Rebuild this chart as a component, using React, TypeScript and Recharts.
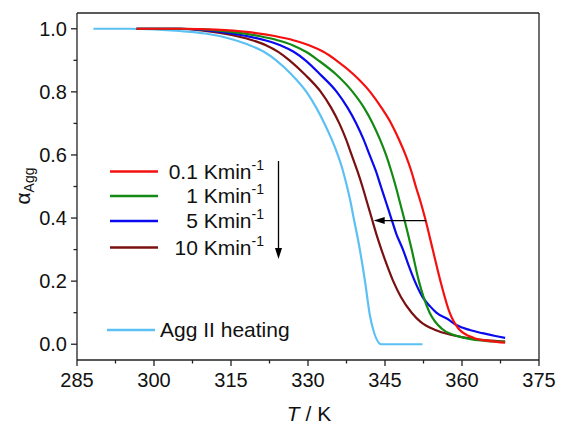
import { LineChart, Line, XAxis, YAxis, ReferenceLine } from "recharts";

// temperatures (K) and aggregate fraction
const tempAggII = [288.2, 295, 300, 305, 310, 314.5, 318.3, 321.4, 323.8, 326.8, 329.7, 331.6, 333.2, 334.6, 335.8, 336.8, 337.6, 338.3, 338.9, 340.1, 341.1, 342.1, 344.3, 352.3];
const alphaAggII = [1.0, 1.0, 0.998, 0.993, 0.985, 0.97, 0.95, 0.927, 0.9, 0.855, 0.8, 0.75, 0.7, 0.65, 0.6, 0.55, 0.5, 0.45, 0.4, 0.3, 0.2, 0.088, 0, 0];

const temp01 = [296.6, 305, 312, 318, 323.5, 327.3, 330.2, 333.0, 335.5, 338.9, 342.1, 344.3, 346.2, 347.7, 349.0, 350.1, 351.0, 351.95, 352.8, 354.3, 355.8, 357.6, 359.3, 362.3, 365.5, 368.4];
const alpha01 = [1.0, 1.0, 0.997, 0.99, 0.977, 0.963, 0.948, 0.927, 0.9, 0.855, 0.8, 0.75, 0.7, 0.65, 0.6, 0.55, 0.5, 0.45, 0.4, 0.3, 0.2, 0.1, 0.05, 0.02, 0.01, 0.005];

const temp1 = [296.6, 305, 310.5, 315, 320.5, 324.2, 327.0, 329.6, 332.0, 335.5, 338.7, 340.9, 342.6, 344.0, 345.2, 346.2, 347.1, 347.9, 348.7, 350.2, 351.6, 352.5, 353.7, 356.0, 358.3, 360.5, 365.0, 368.4];
const alpha1 = [1.0, 1.0, 0.997, 0.99, 0.977, 0.963, 0.948, 0.927, 0.9, 0.855, 0.8, 0.75, 0.7, 0.65, 0.6, 0.55, 0.5, 0.45, 0.4, 0.3, 0.2, 0.15, 0.1, 0.05, 0.03, 0.02, 0.01, 0.008];

const temp5 = [296.6, 305, 309, 313, 318, 321.8, 324.6, 327.2, 329.5, 332.4, 335.6, 337.7, 339.4, 340.8, 342.0, 343.2, 344.2, 345.2, 346.2, 347.2, 348.5, 349.6, 350.8, 352.3, 353.8, 355.0, 357.2, 359.0, 361.5, 364.0, 366.5, 368.4];
const alpha5 = [1.0, 1.0, 0.997, 0.99, 0.977, 0.963, 0.948, 0.927, 0.9, 0.855, 0.8, 0.75, 0.7, 0.65, 0.6, 0.55, 0.5, 0.45, 0.4, 0.35, 0.3, 0.25, 0.2, 0.15, 0.12, 0.1, 0.08, 0.06, 0.045, 0.035, 0.026, 0.02];

const temp10 = [296.6, 305, 308, 311.5, 316, 319.3, 321.8, 324.2, 326.4, 329.4, 332.5, 334.5, 336.1, 337.4, 338.5, 339.6, 340.6, 341.5, 342.4, 343.3, 344.3, 345.4, 346.6, 348.1, 350.2, 352.0, 354.8, 357.8, 361.5, 365.0, 368.4];
const alpha10 = [1.0, 1.0, 0.997, 0.99, 0.977, 0.963, 0.948, 0.927, 0.9, 0.855, 0.8, 0.75, 0.7, 0.65, 0.6, 0.55, 0.5, 0.45, 0.4, 0.35, 0.3, 0.25, 0.2, 0.15, 0.1, 0.07, 0.045, 0.03, 0.019, 0.012, 0.008];

const rateLabels = ["0.1 Kmin", "1 Kmin", "5 Kmin", "10 Kmin"];
const rateColors = ["#f51010", "#138a13", "#0a0aee", "#7a1010"];
const aggColor = "#5cc0f5";

const xMajor = [285, 300, 315, 330, 345, 360, 375];
const xTicks = [285, 292.5, 300, 307.5, 315, 322.5, 330, 337.5, 345, 352.5, 360, 367.5, 375];
const yMajor = [0, 0.2, 0.4, 0.6, 0.8, 1.0];
const yTicks = [0, 0.1, 0.2, 0.3, 0.4, 0.5, 0.6, 0.7, 0.8, 0.9, 1.0];

const toRows = (t: number[], a: number[]) => t.map((v, i) => ({ t: v, a: a[i] }));

const seriesRates = [
  toRows(temp01, alpha01),
  toRows(temp1, alpha1),
  toRows(temp5, alpha5),
  toRows(temp10, alpha10),
];
const aggRows = toRows(tempAggII, alphaAggII);

const font = "'Liberation Sans', Arial, sans-serif";
const axisColor = "#222";

const XTick = (props: any) => {
  const { x, y, payload } = props;
  const major = xMajor.includes(payload.value);
  return (
    <g>
      <line x1={x} x2={x} y1={y} y2={y + (major ? 6 : 3.5)} stroke={axisColor} strokeWidth={1.3} />
      {major && (
        <text x={x} y={y + 27} textAnchor="middle" fontSize={20} fontFamily={font} fill="#111">
          {payload.value}
        </text>
      )}
    </g>
  );
};

const YTick = (props: any) => {
  const { x, y, payload } = props;
  const major = yMajor.some((v) => Math.abs(v - payload.value) < 1e-6);
  return (
    <g>
      <line x1={x} x2={x - (major ? 6 : 3.5)} y1={y} y2={y} stroke={axisColor} strokeWidth={1.3} />
      {major && (
        <text x={x - 10} y={y + 7} textAnchor="end" fontSize={20} fontFamily={font} fill="#111">
          {payload.value.toFixed(1)}
        </text>
      )}
    </g>
  );
};

const ArrowShape = (props: any) => {
  const { x1, y1, x2, y2 } = props;
  const dir = x2 < x1 ? 1 : -1;
  return (
    <g>
      <line x1={x1} y1={y1} x2={x2 + dir * 8} y2={y2} stroke="#000" strokeWidth={1.3} />
      <polygon points={`${x2},${y2} ${x2 + dir * 11},${y2 - 3.5} ${x2 + dir * 11},${y2 + 3.5}`} fill="#000" />
    </g>
  );
};

const LegendOverlay = () => {
  const rows = [171.5, 196, 221, 247.5];
  return (
    <svg
      width={561}
      height={425}
      style={{ position: "absolute", left: 0, top: 0, pointerEvents: "none" }}
    >
      {rateLabels.map((lbl, i) => (
        <g key={lbl}>
          <line x1={110} x2={158} y1={rows[i]} y2={rows[i]} stroke={rateColors[i]} strokeWidth={2.5} />
          <text x={264} y={rows[i] + 7} textAnchor="end" fontSize={21} fontFamily={font} fill="#111">
            {lbl}
            <tspan fontSize={14} dy={-9}>-1</tspan>
          </text>
        </g>
      ))}
      <line x1={278.5} x2={278.5} y1={161} y2={250} stroke="#000" strokeWidth={1.3} />
      <polygon points="278.5,259 275,248 282,248" fill="#000" />
      <line x1={107} x2={155} y1={330} y2={330} stroke={aggColor} strokeWidth={2.5} />
      <text x={160} y={337} fontSize={21} fontFamily={font} fill="#111">
        Agg II heating
      </text>
    </svg>
  );
};

const App = () => (
  <div style={{ position: "absolute", left: 0, top: 0, width: 561, height: 425, background: "#fff" }}>
    <LineChart width={561} height={425} margin={{ top: 13, right: 22, bottom: 20, left: 0 }}>
      <XAxis
        dataKey="t"
        type="number"
        domain={[285, 375]}
        ticks={xTicks}
        interval={0}
        tickSize={0}
        tickMargin={0}
        tickLine={false}
        tick={XTick}
        height={45}
        stroke={axisColor}
        strokeWidth={1.3}
        label={{
          content: () => (
            <text x={309} y={421} textAnchor="middle" fontSize={21} fontFamily={font} fill="#111">
              <tspan fontStyle="italic">T</tspan> / K
            </text>
          ),
        }}
      />
      <YAxis
        type="number"
        domain={[-0.05, 1.05]}
        allowDataOverflow
        ticks={yTicks}
        interval={0}
        tickSize={0}
        tickMargin={0}
        tickLine={false}
        tick={YTick}
        width={77}
        stroke={axisColor}
        strokeWidth={1.3}
        label={{
          content: () => (
            <text
              x={30}
              y={186}
              transform="rotate(-90, 30, 186)"
              textAnchor="middle"
              fontFamily={font}
              fill="#111"
            >
              <tspan fontSize={21}>α</tspan>
              <tspan fontSize={14} dy={4}>Agg</tspan>
            </text>
          ),
        }}
      />
      <ReferenceLine y={1.05} stroke={axisColor} strokeWidth={1.3} ifOverflow="visible" />
      <ReferenceLine x={375} stroke={axisColor} strokeWidth={1.3} ifOverflow="visible" />
      <Line data={aggRows} dataKey="a" type="monotone" stroke={aggColor} strokeWidth={2.2} dot={false} isAnimationActive={false} />
      {seriesRates
        .map((rows, i) => (
          <Line
            key={rateLabels[i]}
            data={rows}
            dataKey="a"
            type="monotone"
            stroke={rateColors[i]}
            strokeWidth={2.2}
            dot={false}
            isAnimationActive={false}
          />
        ))
        .reverse()}
      <ReferenceLine
        segment={[
          { x: 353.0, y: 0.392 },
          { x: 342.8, y: 0.392 },
        ]}
        shape={ArrowShape}
        ifOverflow="visible"
      />
    </LineChart>
    <LegendOverlay />
  </div>
);

export default App;
